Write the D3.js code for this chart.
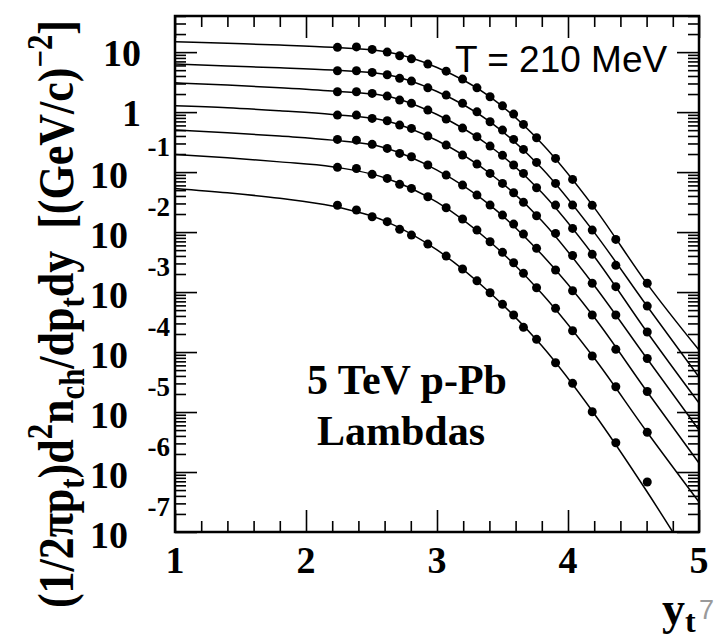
<!DOCTYPE html>
<html lang="en">
<head>
  <meta charset="UTF-8">
  <title>Lambdas 5 TeV p-Pb</title>
  <style>
    body { margin: 0; background: #fff; }
  </style>
</head>
<body>
  <script src="https://cdn.jsdelivr.net/npm/d3@7/dist/d3.min.js"></script>
  <script>
// 数据点的 y_t 位置
const ptYt = [2.24, 2.385, 2.505, 2.62, 2.715, 2.805, 2.93, 3.07, 3.195, 3.305,
              3.405, 3.5, 3.585, 3.66, 3.76, 3.905, 4.035, 4.185, 4.365, 4.605];

// 七个多重数类的谱 (从上到下)
const spec0 = [12.0, 12.2, 11.1, 10.0, 8.68, 7.73, 6.31, 4.82, 3.55, 2.54,
               1.80, 1.27, 0.926, 0.624, 0.373, 0.169, 0.0755, 0.0279, 7.55e-3, 1.40e-3];
const spec1 = [4.88, 4.88, 4.59, 4.19, 3.65, 3.29, 2.54, 1.92, 1.40, 1.01,
               0.689, 0.501, 0.351, 0.239, 0.145, 0.0648, 0.0282, 0.0108, 2.79e-3, 5.84e-4];
const spec2 = [2.18, 2.18, 2.05, 1.85, 1.585, 1.40, 1.08, 0.764, 0.541, 0.388,
               0.271, 0.190, 0.131, 0.0951, 0.0548, 0.0282, 0.0115, 4.25e-3, 1.23e-3, 2.16e-4];
const spec3 = [0.891, 0.891, 0.785, 0.716, 0.607, 0.535, 0.398, 0.282, 0.192, 0.136,
               0.0951, 0.0648, 0.0452, 0.0313, 0.0187, 9.51e-3, 4.06e-3, 1.40e-3, 4.14e-4, 7.79e-5];
const spec4 = [0.351, 0.341, 0.290, 0.248, 0.205, 0.180, 0.131, 0.0891, 0.0607, 0.0414,
               0.0282, 0.0192, 0.0136, 9.26e-3, 5.35e-3, 2.33e-3, 1.05e-3, 4.14e-4, 1.11e-4, 2.20e-5];
const spec5 = [0.120, 0.115, 0.0916, 0.0785, 0.0624, 0.0535, 0.0388, 0.0254, 0.0165, 0.0108,
               6.89e-3, 4.59e-3, 3.08e-3, 2.05e-3, 1.18e-3, 5.35e-4, 2.26e-4, 8.58e-5, 2.64e-5, 4.59e-6];
const spec6 = [0.0280, 0.0233, 0.0180, 0.0149, 0.0111, 8.91e-3, 6.31e-3, 3.98e-3, 2.42e-3, 1.54e-3,
               9.73e-4, 6.24e-4, 4.14e-4, 2.58e-4, 1.63e-4, 6.64e-5, 3.01e-5, 1.01e-5, 3.08e-6, 6.81e-7];

// 拟合曲线 (模型) 的采样位置和值
const fitYt = [1.0, 1.4, 1.8, 2.2, 2.6, 3.0, 3.4, 3.8, 4.2, 4.6, 5.0];
const fit0 = [14.9, 14.0, 13.1, 12.0, 10.2, 5.53, 1.83, 0.300, 0.0256, 1.41e-3, 1.08e-4];
const fit1 = [6.31, 5.85, 5.47, 5.01, 4.27, 2.21, 0.703, 0.116, 9.89e-3, 5.96e-4, 3.83e-5];
const fit2 = [3.08, 2.82, 2.54, 2.24, 1.88, 0.912, 0.275, 0.0455, 3.92e-3, 2.20e-4, 1.41e-5];
const fit3 = [1.27, 1.18, 1.05, 0.915, 0.727, 0.336, 0.0966, 0.0155, 1.29e-3, 7.94e-5, 5.01e-6];
const fit4 = [0.501, 0.452, 0.398, 0.341, 0.255, 0.108, 0.0287, 4.23e-3, 3.80e-4, 2.24e-5, 1.41e-6];
const fit5 = [0.197, 0.173, 0.148, 0.123, 0.0807, 0.0315, 7.03e-3, 9.48e-4, 7.94e-5, 4.73e-6, 3.16e-7];
const fit6 = [0.0535, 0.0452, 0.0365, 0.0271, 0.0154, 5.03e-3, 9.93e-4, 1.27e-4, 9.37e-6, 4.82e-7, 2.0e-8];

// 刻度
const xTickLabels = [1, 2, 3, 4, 5];
const yTickExps = [1, 0, -1, -2, -3, -4, -5, -6, -7];

const specs = [spec0, spec1, spec2, spec3, spec4, spec5, spec6];
const fits = [fit0, fit1, fit2, fit3, fit4, fit5, fit6];

// 画布
const width = 721;
const height = 637;
const margin = { top: 16, right: 22, bottom: 105, left: 175 };
const innerWidth = width - margin.left - margin.right;
const innerHeight = height - margin.top - margin.bottom;

const serif = '"Liberation Serif", "Times New Roman", serif';
const sans = '"Liberation Sans", Arial, sans-serif';

const svg = d3.select('body').append('svg')
  .attr('width', width)
  .attr('height', height);

const g = svg.append('g')
  .attr('transform', `translate(${margin.left}, ${margin.top})`);

// 比例尺
const xScale = d3.scaleLinear().domain([1, 5]).range([0, innerWidth]);
const yScale = d3.scaleLog().domain([1e-7, 40]).range([innerHeight, 0]);

// 刻度 (ROOT 风格, 四边向内)
const xMinor = d3.range(1, 5.001, 0.2).filter(v => Math.abs(v - Math.round(v)) > 1e-6);
const yAll = yScale.ticks();
const yMajor = yAll.filter(v => Math.abs(Math.log10(v) - Math.round(Math.log10(v))) < 1e-6);
const yMinor = yAll.filter(v => !yMajor.includes(v));

function tickAxis(axis, values, size, transform) {
  g.append('g')
    .attr('transform', transform)
    .call(axis.tickValues(values).tickSize(size).tickFormat(''))
    .call(s => s.select('.domain').remove())
    .call(s => s.selectAll('line').attr('stroke', '#000').attr('stroke-width', 1.6));
}
tickAxis(d3.axisBottom(xScale), xTickLabels, -22, `translate(0, ${innerHeight})`);
tickAxis(d3.axisBottom(xScale), xMinor, -11, `translate(0, ${innerHeight})`);
tickAxis(d3.axisTop(xScale), xTickLabels, -22, 'translate(0, 0)');
tickAxis(d3.axisTop(xScale), xMinor, -11, 'translate(0, 0)');
tickAxis(d3.axisLeft(yScale), yMajor, -22, 'translate(0, 0)');
tickAxis(d3.axisLeft(yScale), yMinor, -11, 'translate(0, 0)');
tickAxis(d3.axisRight(yScale), yMajor, -22, `translate(${innerWidth}, 0)`);
tickAxis(d3.axisRight(yScale), yMinor, -11, `translate(${innerWidth}, 0)`);

// 裁剪
svg.append('clipPath').attr('id', 'plotclip')
  .append('rect').attr('width', innerWidth).attr('height', innerHeight);

// 拟合曲线
const line = d3.line()
  .x(d => xScale(d[0]))
  .y(d => yScale(d[1]))
  .curve(d3.curveMonotoneX);

g.append('g').attr('clip-path', 'url(#plotclip)')
  .selectAll('.fit')
  .data(fits)
  .enter()
  .append('path')
  .attr('class', 'fit')
  .attr('d', f => line(fitYt.map((v, i) => [v, f[i]])))
  .attr('fill', 'none')
  .attr('stroke', '#000')
  .attr('stroke-width', 1.5);

// 数据点
g.selectAll('.spec')
  .data(specs)
  .enter()
  .append('g')
  .attr('class', 'spec')
  .selectAll('circle')
  .data(s => s.map((v, i) => [ptYt[i], v]))
  .enter()
  .append('circle')
  .attr('cx', d => xScale(d[0]))
  .attr('cy', d => yScale(d[1]))
  .attr('r', 4.5)
  .attr('fill', '#000');

// 边框
g.append('rect')
  .attr('width', innerWidth)
  .attr('height', innerHeight)
  .attr('fill', 'none')
  .attr('stroke', '#000')
  .attr('stroke-width', 2.5);

// x 轴标签
g.selectAll('.xlab')
  .data(xTickLabels)
  .enter()
  .append('text')
  .attr('class', 'xlab')
  .attr('x', d => xScale(d))
  .attr('y', innerHeight + 41)
  .attr('text-anchor', 'middle')
  .attr('font-family', serif)
  .attr('font-weight', 'bold')
  .attr('font-size', 38)
  .text(d => d);

// y 轴标签: 10, 1 直接写; 10^-n 分成底数和指数
const ylabG = g.append('g')
  .attr('font-family', serif)
  .attr('font-weight', 'bold')
  .attr('text-anchor', 'end');

ylabG.selectAll('.ylab-plain')
  .data(yTickExps.filter(d => d >= 0))
  .enter()
  .append('text')
  .attr('class', 'ylab-plain')
  .attr('x', -34)
  .attr('y', d => yScale(Math.pow(10, d)) + 14)
  .attr('font-size', 38)
  .text(d => d === 1 ? '10' : '1');

ylabG.selectAll('.ylab-base')
  .data(yTickExps.filter(d => d < 0))
  .enter()
  .append('text')
  .attr('class', 'ylab-base')
  .attr('x', -47)
  .attr('y', d => yScale(Math.pow(10, d)) + 16)
  .attr('font-size', 38)
  .text('10');

ylabG.selectAll('.ylab-exp')
  .data(yTickExps.filter(d => d < 0))
  .enter()
  .append('text')
  .attr('class', 'ylab-exp')
  .attr('x', -5)
  .attr('y', d => yScale(Math.pow(10, d)) - 16)
  .attr('font-size', 27)
  .text(d => d);

// y 轴标题
const yt = svg.append('text')
  .attr('transform', 'translate(73, 20) rotate(-90) scale(0.88, 1)')
  .attr('text-anchor', 'end')
  .attr('font-family', serif)
  .attr('font-weight', 'bold')
  .attr('font-size', 50);
const pieces = [
  ['(1/2πp', 0], ['t', 1], [')d', 0], ['2', -1], ['n', 0], ['ch', 1],
  ['/dp', 0], ['t', 1], ['dy\u00a0\u00a0[(GeV/c)', 0], ['\u22122', -1], [']', 0]
];
let prev = 0;
pieces.forEach(([s, lvl]) => {
  const shift = lvl === 1 ? 11 : (lvl === -1 ? -21 : 0);
  yt.append('tspan')
    .attr('dy', shift - prev)
    .attr('font-size', lvl === 0 ? 50 : 35)
    .text(s);
  prev = shift;
});

// x 轴标题
const xt = svg.append('text')
  .attr('x', 662)
  .attr('y', 624)
  .attr('font-family', serif)
  .attr('font-weight', 'bold')
  .attr('font-size', 46);
xt.append('tspan').text('y');
xt.append('tspan').attr('dy', 8).attr('font-size', 32).text('t');

svg.append('text')
  .attr('x', 699)
  .attr('y', 619)
  .attr('font-family', sans)
  .attr('font-size', 27)
  .attr('fill', '#9a9a9a')
  .text('7');

// 注释
svg.append('text')
  .attr('x', 455)
  .attr('y', 72)
  .attr('font-family', sans)
  .attr('font-size', 37)
  .text('T = 210 MeV');

svg.append('text')
  .attr('x', 407)
  .attr('y', 394)
  .attr('text-anchor', 'middle')
  .attr('font-family', serif)
  .attr('font-weight', 'bold')
  .attr('font-size', 42)
  .text('5 TeV p-Pb');

svg.append('text')
  .attr('x', 401)
  .attr('y', 445)
  .attr('text-anchor', 'middle')
  .attr('font-family', serif)
  .attr('font-weight', 'bold')
  .attr('font-size', 42)
  .text('Lambdas');
  </script>
</body>
</html>
